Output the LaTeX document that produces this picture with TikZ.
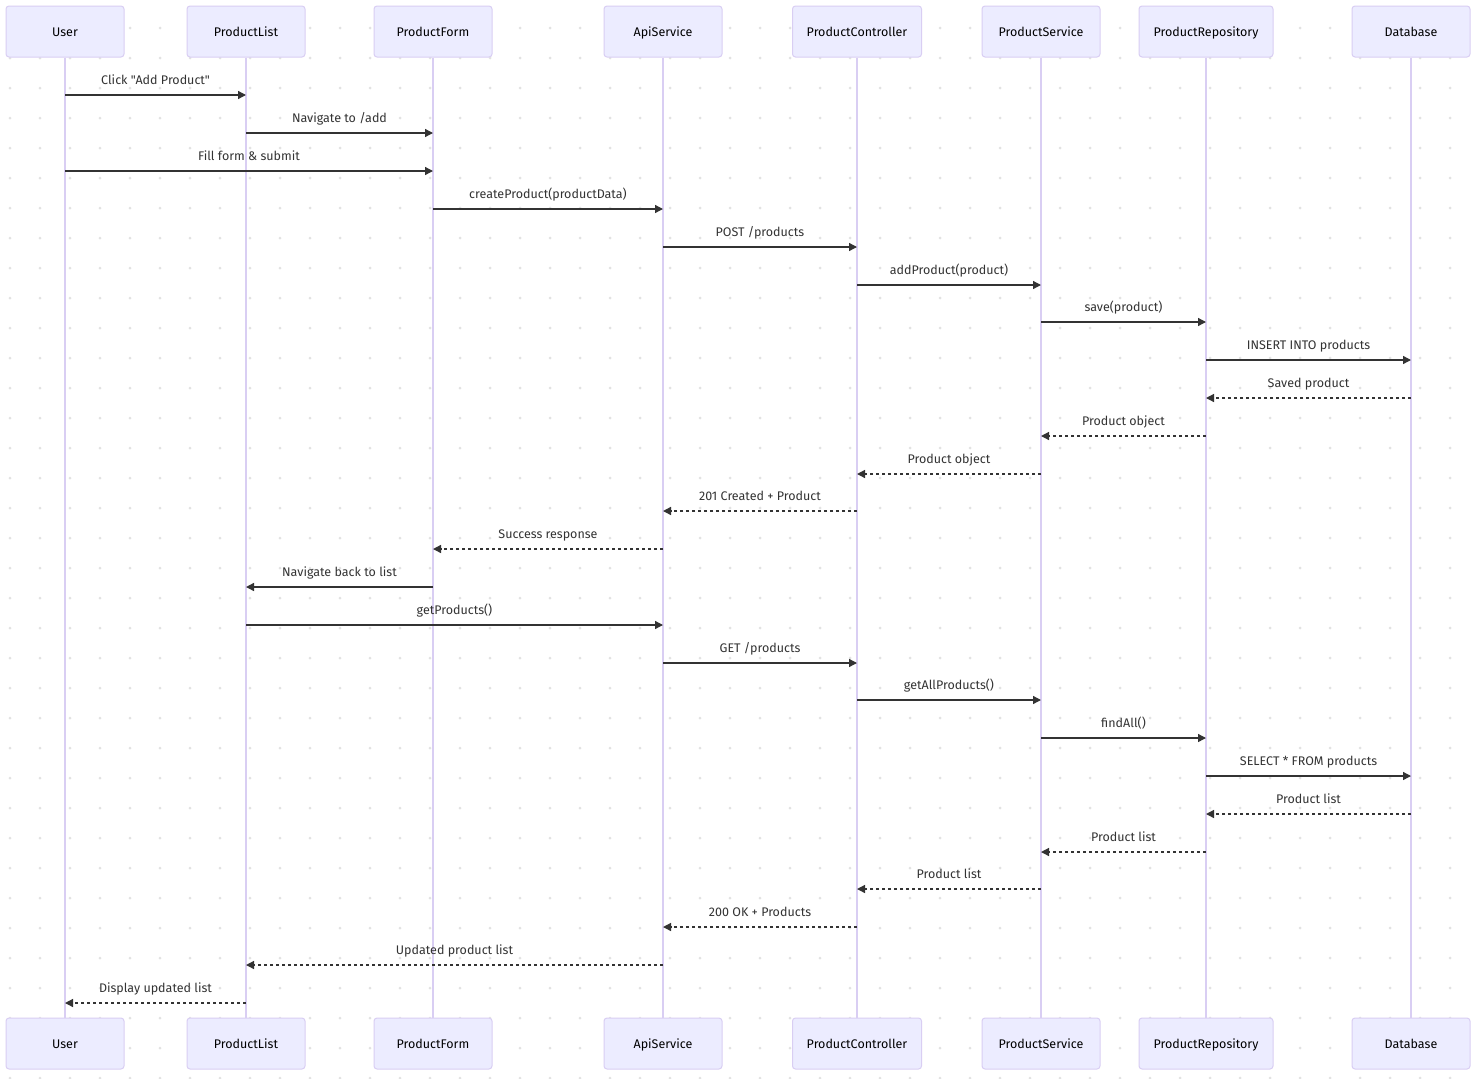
\documentclass[tikz,border=0pt]{standalone}
\usepackage{fontspec}
\setmainfont{Fira Sans}[Ligatures=TeXOff]
\usetikzlibrary{arrows.meta,calc}
\definecolor{actfill}{HTML}{ECECFF}
\definecolor{actline}{HTML}{D9CEF3}
\definecolor{ink}{HTML}{333333}
\definecolor{griddot}{HTML}{E2E2E2}

% one message between two lifelines: style, sender, receiver, y, label
\newcommand\seqmsg[5]{%
  \draw[#1] (#2T.south |- 0,#4) -- node[msglabel, midway, yshift=15pt] {#5} (#3T.south |- 0,#4);%
}

\begin{document}
\begin{tikzpicture}[x=1pt,y=-1pt,
  actor/.style={draw=actline, fill=actfill, rounded corners=3pt, line width=1pt,
    minimum height=51pt, inner sep=0pt, font=\fontsize{12.5}{15}\selectfont, text=black,
    text height=9pt, text depth=0pt},
  lifeline/.style={draw=actline, line width=1.5pt},
  msgline/.style={draw=ink, line width=1.3pt, -{Triangle[length=8pt,width=8pt]}},
  replyline/.style={msgline, dash pattern=on 3pt off 3pt},
  msglabel/.style={font=\fontsize{12.5}{15}\selectfont, text=ink, inner sep=0pt,
    text height=9pt, text depth=0pt}]

\useasboundingbox[fill=white] (0,0) rectangle (1478,1079);

% dotted background grid
\foreach \gx in {10,40,...,1470}
  \foreach \gy in {28,58,...,1078}
    \fill[griddot] (\gx,\gy) circle (1.5pt);

% participants, top row
\node[actor, minimum width=118pt] (uT)   at (65,31.5)    {User};
\node[actor, minimum width=118pt] (plT)  at (246,31.5)   {ProductList};
\node[actor, minimum width=118pt] (pfT)  at (433,31.5)   {ProductForm};
\node[actor, minimum width=118pt] (apiT) at (663,31.5)   {ApiService};
\node[actor, minimum width=129pt] (pcT)  at (857,31.5)   {ProductController};
\node[actor, minimum width=118pt] (psT)  at (1041,31.5)  {ProductService};
\node[actor, minimum width=134pt] (prT)  at (1206,31.5)  {ProductRepository};
\node[actor, minimum width=118pt] (dbT)  at (1411,31.5)  {Database};

% participants, bottom row
\node[actor, minimum width=118pt] (uB)   at (65,1043.5)    {User};
\node[actor, minimum width=118pt] (plB)  at (246,1043.5)   {ProductList};
\node[actor, minimum width=118pt] (pfB)  at (433,1043.5)   {ProductForm};
\node[actor, minimum width=118pt] (apiB) at (663,1043.5)   {ApiService};
\node[actor, minimum width=129pt] (pcB)  at (857,1043.5)   {ProductController};
\node[actor, minimum width=118pt] (psB)  at (1041,1043.5)  {ProductService};
\node[actor, minimum width=134pt] (prB)  at (1206,1043.5)  {ProductRepository};
\node[actor, minimum width=118pt] (dbB)  at (1411,1043.5)  {Database};

% lifelines
\foreach \p in {u,pl,pf,api,pc,ps,pr,db}
  \draw[lifeline] (\p T.south) -- (\p B.north);

% add-product flow
\seqmsg{msgline}{u}{pl}{95}{Click "Add Product"}
\seqmsg{msgline}{pl}{pf}{133}{Navigate to /add}
\seqmsg{msgline}{u}{pf}{171}{Fill form \& submit}
\seqmsg{msgline}{pf}{api}{209}{createProduct(productData)}
\seqmsg{msgline}{api}{pc}{247}{POST /products}
\seqmsg{msgline}{pc}{ps}{285}{addProduct(product)}
\seqmsg{msgline}{ps}{pr}{322}{save(product)}
\seqmsg{msgline}{pr}{db}{360}{INSERT INTO products}
\seqmsg{replyline}{db}{pr}{398}{Saved product}
\seqmsg{replyline}{pr}{ps}{436}{Product object}
\seqmsg{replyline}{ps}{pc}{474}{Product object}
\seqmsg{replyline}{pc}{api}{511}{201 Created + Product}
\seqmsg{replyline}{api}{pf}{549}{Success response}
\seqmsg{msgline}{pf}{pl}{587}{Navigate back to list}

% list refresh flow
\seqmsg{msgline}{pl}{api}{625}{getProducts()}
\seqmsg{msgline}{api}{pc}{663}{GET /products}
\seqmsg{msgline}{pc}{ps}{700}{getAllProducts()}
\seqmsg{msgline}{ps}{pr}{738}{findAll()}
\seqmsg{msgline}{pr}{db}{776}{SELECT * FROM products}
\seqmsg{replyline}{db}{pr}{814}{Product list}
\seqmsg{replyline}{pr}{ps}{852}{Product list}
\seqmsg{replyline}{ps}{pc}{889}{Product list}
\seqmsg{replyline}{pc}{api}{927}{200 OK + Products}
\seqmsg{replyline}{api}{pl}{965}{Updated product list}
\seqmsg{replyline}{pl}{u}{1003}{Display updated list}

\end{tikzpicture}
\end{document}
